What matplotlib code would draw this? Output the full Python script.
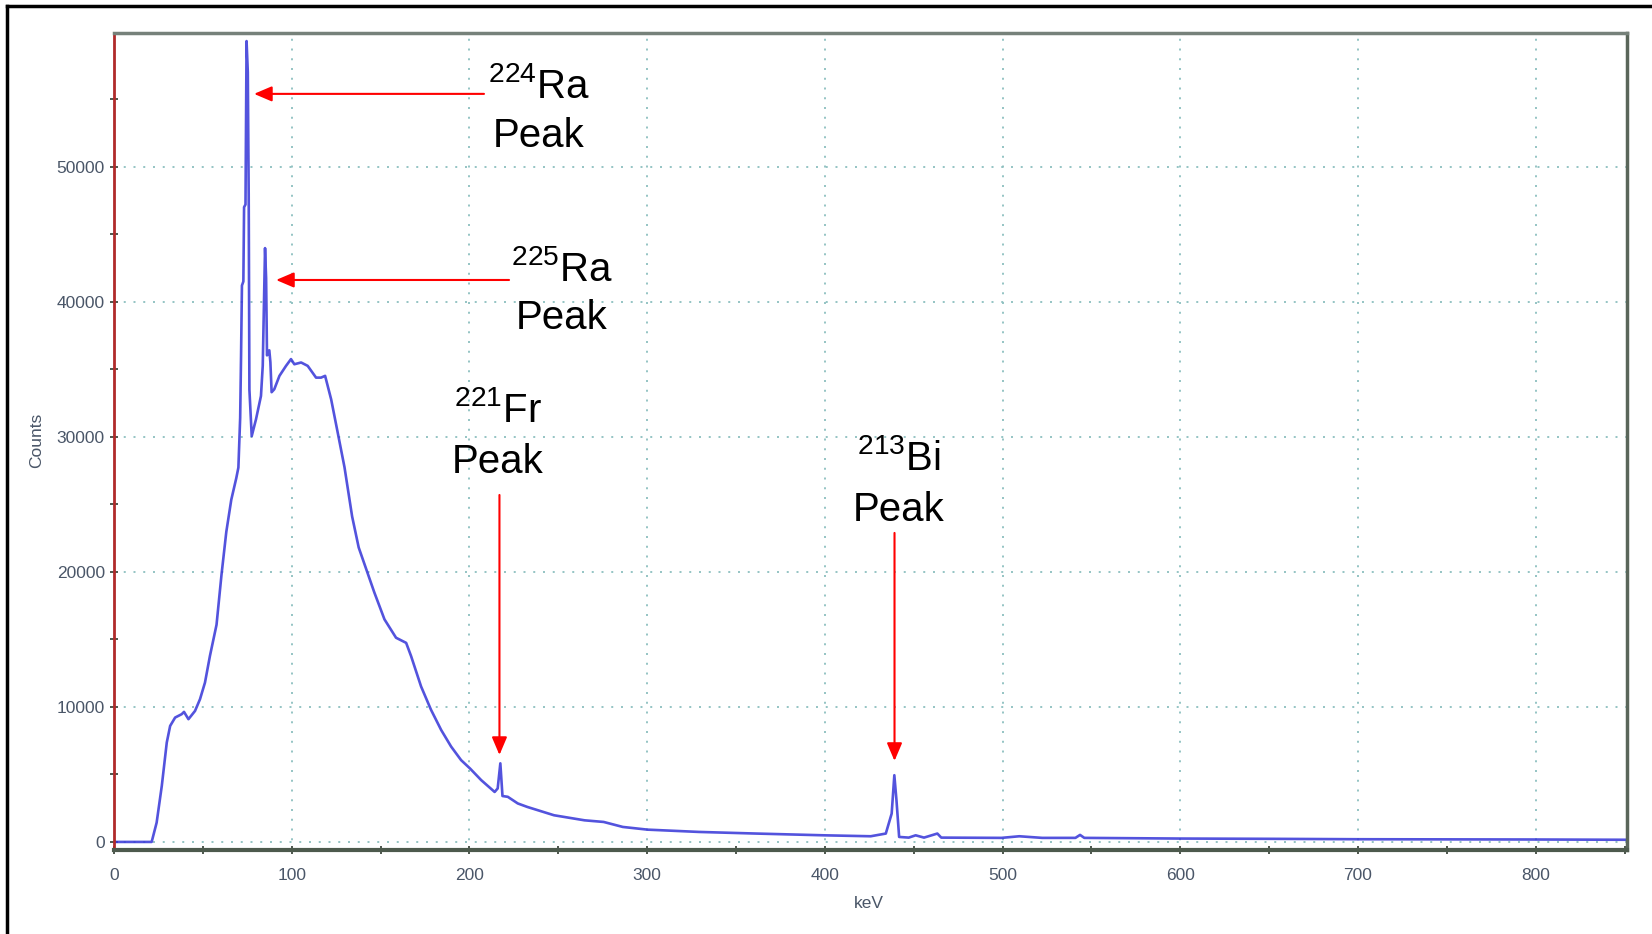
import matplotlib
matplotlib.use("Agg")
import matplotlib.pyplot as plt
from matplotlib.lines import Line2D
from matplotlib.ticker import MultipleLocator

plt.rcParams['font.family'] = ['Liberation Sans', 'DejaVu Sans']
plt.rcParams['mathtext.default'] = 'regular'

# spectrum (keV, counts)
energy_kev = [0, 21.2, 24.0, 26.9, 29.7, 31.6, 34.4, 38.1, 39.4, 41.9, 45.6, 48.4,
              51.2, 54.0, 57.7, 60.5, 63.2, 66.0, 68.8, 70.0, 71.0, 71.5, 72.0,
              72.8, 73.2, 74.0, 74.6, 75.3, 75.8, 76.2, 77.5, 79.9, 82.7, 83.7,
              85.0, 85.6, 86.1, 87.4, 88.0, 88.7, 90.2, 93.1, 96.8, 99.6, 101.5,
              105.3, 109.0, 113.7, 116.5, 118.8, 122.2, 125.9, 129.7, 134.0,
              137.7, 140.9, 146.5, 152.2, 158.7, 164.4, 167.2, 172.8, 178.4,
              184.1, 189.7, 195.3, 200.4, 206.6, 214.2, 215.9, 217.4, 218.6,
              221.6, 227.2, 232.6, 247.6, 264.8, 275.5, 286.3, 300.2, 329.2,
              361.4, 399.6, 425.8, 434.3, 437.6, 439.1, 440.3, 441.8, 447.2,
              451.1, 455.8, 463.3, 465.5, 499.4, 509.4, 522.3, 541.0, 543.6,
              546.0, 600.0, 650.0, 700.0, 750.0, 800.0, 825.0, 851.0]
counts = [0, 0, 1430, 4150, 7360, 8590, 9210, 9460, 9630, 9090, 9700, 10570,
          11800, 13780, 16080, 19790, 22960, 25340, 26930, 27720, 31400, 36000,
          41200, 41500, 47000, 47200, 59300, 57000, 48000, 33500, 30050, 31290,
          33020, 35250, 43970, 41730, 36030, 36400, 35530, 33300, 33520, 34510,
          35250, 35750, 35370, 35500, 35250, 34380, 34380, 34510, 32770, 30300,
          27750, 24100, 21800, 20590, 18470, 16480, 15120, 14740, 13750, 11510,
          9780, 8290, 7060, 6060, 5430, 4580, 3700, 3960, 5820, 3400, 3340, 2850,
          2590, 1975, 1600, 1480, 1110, 910, 740, 620, 490, 420, 620, 2100, 4940,
          3090, 370, 320, 490, 320, 620, 320, 300, 420, 300, 300, 520, 300, 250,
          230, 200, 190, 180, 170, 160]

# annotations: label, text x (keV), name baseline, "Peak" baseline, arrow tail, arrow head
labels = [r'$^{224}$Ra', r'$^{225}$Ra', r'$^{221}$Fr', r'$^{213}$Bi']
label_x = [239.2, 252.0, 216.1, 441.5]
name_y = [55090, 41510, 31060, 27550]
peak_y = [51430, 37990, 27320, 23800]
arrow_from = [(208.2, 55390), (222.3, 41610), (216.9, 25690), (439.2, 22880)]
arrow_to = [(78.8, 55390), (91.2, 41610), (216.9, 6440), (439.2, 6000)]

fig = plt.figure(figsize=(16.52, 9.34), dpi=100)
ax = fig.add_axes([0.069, 0.0899, 0.9159, 0.8748])

ax.plot(energy_kev, counts, color='#3535d8', lw=1.9, alpha=0.85)

for i in range(len(labels)):
    ax.text(label_x[i], name_y[i], labels[i], fontsize=29, ha='center', va='baseline')
    ax.text(label_x[i], peak_y[i], 'Peak', fontsize=29, ha='center', va='baseline')
    ax.annotate('', xy=arrow_to[i], xytext=arrow_from[i],
                arrowprops=dict(arrowstyle='-|>,head_length=0.54,head_width=0.23',
                                color='red', lw=1.5, mutation_scale=20,
                                shrinkA=0, shrinkB=0))

ax.set_xlim(0, 851.4)
ax.set_ylim(-600, 59900)
ax.xaxis.set_major_locator(MultipleLocator(100))
ax.xaxis.set_minor_locator(MultipleLocator(50))
ax.yaxis.set_major_locator(MultipleLocator(10000))
ax.yaxis.set_minor_locator(MultipleLocator(5000))

ax.grid(True, which='major', color='#8cbfbf', lw=1.3, linestyle=(0, (1.1, 4.3)))
ax.set_axisbelow(True)

ax.tick_params(which='both', direction='inout', length=6, width=1.2, color='#2f3a2f',
               labelsize=12.5, labelcolor='#4a5668')
ax.tick_params(axis='x', pad=10)
ax.tick_params(axis='y', pad=3.5)

ax.spines['left'].set_color('#b02a2a')
ax.spines['left'].set_linewidth(2)
ax.spines['bottom'].set_color('#4d5a4d')
ax.spines['bottom'].set_linewidth(3)
ax.spines['top'].set_color('#76817a')
ax.spines['top'].set_linewidth(2.5)
ax.spines['right'].set_color('#5a665a')
ax.spines['right'].set_linewidth(2.5)

fig.text(37 / 1652, 1 - 440 / 934, 'Counts', rotation=90, ha='center', va='center',
         fontsize=12.5, color='#4a5668')
fig.text(869 / 1652, 1 - 904 / 934, 'keV', ha='center', va='center',
         fontsize=12.5, color='#4a5668')

# outer frame (left and top edges only)
fig.add_artist(Line2D([7 / 1652, 7 / 1652], [0, 1 - 6 / 934], transform=fig.transFigure,
                      color='black', lw=2.5))
fig.add_artist(Line2D([7 / 1652, 1], [1 - 6 / 934, 1 - 6 / 934], transform=fig.transFigure,
                      color='black', lw=2.5))

fig.savefig('out.png', dpi=100)
